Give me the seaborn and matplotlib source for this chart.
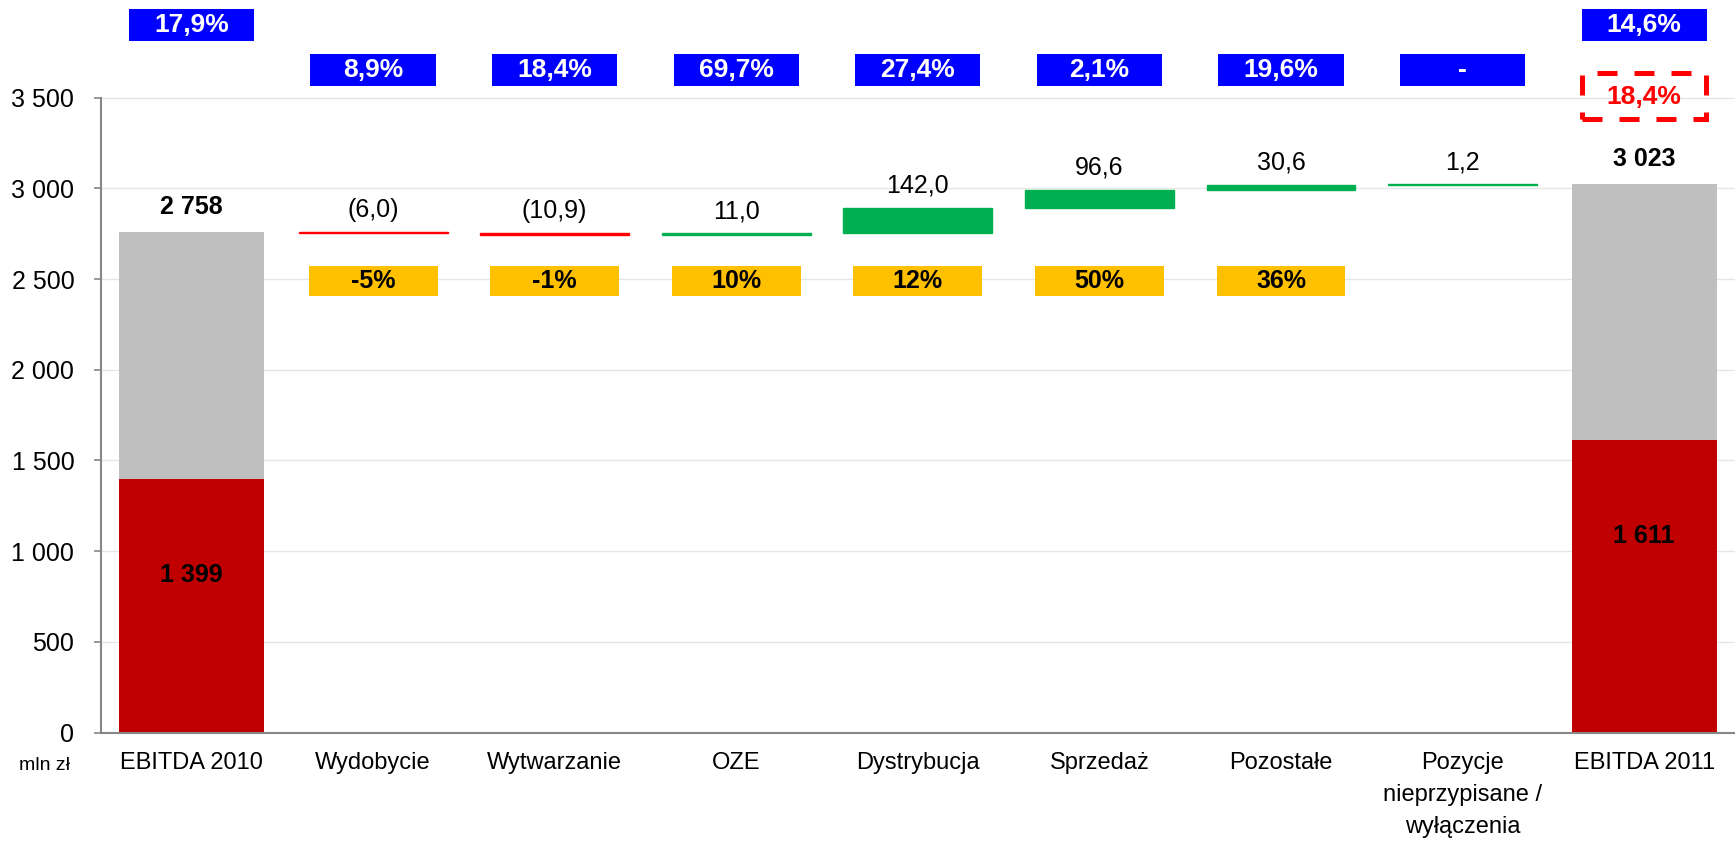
import numpy as np
import pandas as pd
import matplotlib.pyplot as plt
import seaborn as sns
from matplotlib.patches import Rectangle
from matplotlib.ticker import FuncFormatter

# dane (mln zł)
categories = ['EBITDA 2010', 'Wydobycie', 'Wytwarzanie', 'OZE', 'Dystrybucja',
              'Sprzedaż', 'Pozostałe', 'Pozycje\nnieprzypisane /\nwyłączenia', 'EBITDA 2011']
ebitda_2010 = 2758
ebitda_2011 = 3023
red_part_2010 = 1399
red_part_2011 = 1611
deltas = [-6.0, -10.9, 11.0, 142.0, 96.6, 30.6, 1.2]
delta_labels = ['(6,0)', '(10,9)', '11,0', '142,0', '96,6', '30,6', '1,2']
margin_labels = ['17,9%', '8,9%', '18,4%', '69,7%', '27,4%', '2,1%', '19,6%', '-', '14,6%']
growth_labels = ['-5%', '-1%', '10%', '12%', '50%', '36%']
compare_label = '18,4%'

sns.set_theme(style='white')
plt.rcParams['font.family'] = ['Liberation Sans', 'DejaVu Sans']
plt.rcParams['text.color'] = 'black'

fig = plt.figure(figsize=(17.35, 8.43), dpi=100)
ax = fig.add_axes([100.7 / 1735, 0.131, 1 - 100.7 / 1735, 1 - 0.131])

n = len(categories)
x = np.arange(n)

# kolumny sum
totals = [ebitda_2010] + [0] * (n - 2) + [ebitda_2011]
reds = [red_part_2010] + [0] * (n - 2) + [red_part_2011]
df = pd.DataFrame({'cat': categories, 'total': totals, 'red': reds})
sns.barplot(data=df, x='cat', y='total', order=categories, color='#BFBFBF',
            saturation=1, width=0.80, linewidth=0, ax=ax)
sns.barplot(data=df, x='cat', y='red', order=categories, color='#C00000',
            saturation=1, width=0.80, linewidth=0, ax=ax)

# słupki wodospadu
running = ebitda_2010
tops = []
for i, d in enumerate(deltas, start=1):
    low = running + min(d, 0)
    col = '#FF0000' if d < 0 else '#00B050'
    ax.bar(i, abs(d), bottom=low, width=0.82, color=col, edgecolor=col, linewidth=1)
    running += d
    tops.append(low + abs(d))

# etykiety wartości
for j, (lab, top) in enumerate(zip(delta_labels, tops)):
    ax.annotate(lab, (j + 1, top), xytext=(0, 16), textcoords='offset points',
                ha='center', va='center', fontsize=18, color='black')
for xi, val in [(0, ebitda_2010), (n - 1, ebitda_2011)]:
    ax.annotate(f'{val:,}'.replace(',', ' '), (xi, val), xytext=(0, 18.5),
                textcoords='offset points', ha='center', va='center',
                fontsize=18, fontweight='bold', color='black')
for xi, val in [(0, red_part_2010), (n - 1, red_part_2011)]:
    ax.text(xi, val - 528, f'{val:,}'.replace(',', ' '), ha='center', va='center',
            fontsize=18, fontweight='bold', color='black')

# niebieskie ramki (marża)
for i, lab in enumerate(margin_labels):
    if i in (0, n - 1):
        b0, b1 = 3814, 3989
    else:
        b0, b1 = 3566, 3741
    ax.bar(i, b1 - b0, bottom=b0, width=0.69, color='#0000FF', linewidth=0)
    ax.text(i, (b0 + b1) / 2, lab, ha='center', va='center', color='white',
            fontsize=19, fontweight='bold')

# pomarańczowe ramki (dynamika)
for i, lab in enumerate(growth_labels, start=1):
    ax.bar(i, 165, bottom=2409, width=0.71, color='#FFC000', linewidth=0)
    ax.text(i, 2491, lab, ha='center', va='center', color='black',
            fontsize=18, fontweight='bold')

# ramka porównawcza
ax.add_patch(Rectangle((n - 1 - 0.34, 3380), 0.68, 255, fill=False,
                       edgecolor='#FF0000', linewidth=3.6, linestyle=(0, (4, 3.4))))
ax.text(n - 1, 3505, compare_label, ha='center', va='center', color='#FF0000',
        fontsize=19, fontweight='bold')

# osie
ax.set_xlim(-0.5, (1735 - 100.7) / 182.9 - 0.5)
ax.set_ylim(0, 4038.6)
ax.set_yticks(np.arange(0, 3501, 500))
ax.yaxis.set_major_formatter(FuncFormatter(lambda v, p: f'{int(v):,}'.replace(',', ' ')))
ax.yaxis.grid(True, color='#E6E6E6', linewidth=1)
ax.set_axisbelow(True)
ax.set_xticks(x)
ax.set_xticklabels(categories, linespacing=1.6)
ax.set_xticks(np.arange(-0.5, n, 1), minor=True)
ax.tick_params(axis='x', which='major', length=0, pad=14, labelsize=17, labelcolor='black')
ax.tick_params(axis='x', which='minor', length=8, width=1.2, color='#868686', direction='out')
ax.tick_params(axis='y', length=5, width=1.2, color='#868686', direction='out', pad=14,
               labelsize=18, labelcolor='black', left=True)
for lab in ax.get_xticklabels():
    lab.set_verticalalignment('top')
ax.set_xlabel('')
ax.set_ylabel('')
for s in ['top', 'right']:
    ax.spines[s].set_visible(False)
ax.spines['left'].set_bounds(0, 3500)
for s in ['left', 'bottom']:
    ax.spines[s].set_color('#868686')
    ax.spines[s].set_linewidth(1.5)

fig.text(44 / 1735, 1 - 766 / 843, 'mln zł', ha='center', va='center', fontsize=14,
         color='black')

fig.savefig('out.png', dpi=100)
